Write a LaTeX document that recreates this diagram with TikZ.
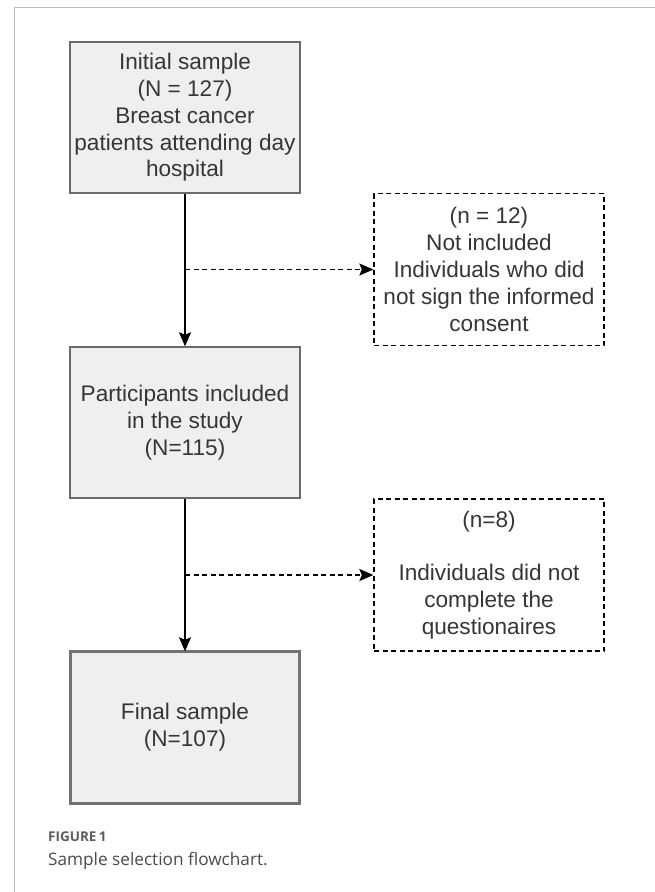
\documentclass[tikz,border=0pt]{standalone}
\usepackage{fontspec}
\setmainfont{Liberation Sans}
\newfontfamily\capfont{Open Sans}
\usetikzlibrary{arrows.meta}
\definecolor{boxfill}{HTML}{EFEFEF}
\definecolor{boxline}{HTML}{6A6A6A}
\definecolor{txt}{HTML}{363636}
\definecolor{frame}{HTML}{BDBDBD}
\definecolor{captxt}{HTML}{4A4A4A}
\definecolor{figtxt}{HTML}{5E5E5E}
\tikzset{
  box/.style={draw=boxline, fill=boxfill, line width=1.4pt, minimum width=230pt,
    minimum height=151pt, inner sep=0pt, align=center, text=txt,
    font=\fontsize{22.6}{26.8}\selectfont},
  finalbox/.style={box, draw=black!55, line width=3.4pt, minimum width=229pt, minimum height=152pt},
  dbox/.style={draw=black, dash pattern=on 5pt off 3.5pt, line width=1.3pt, fill=white,
    minimum width=230pt, minimum height=152pt, inner sep=0pt, align=center, text=txt,
    font=\fontsize{22.6}{26.8}\selectfont},
  flow/.style={line width=1.3pt, -{Stealth[length=14pt, width=12pt, inset=2.5pt]}},
  dflow/.style={flow, dash pattern=on 5pt off 3.5pt},
}
\begin{document}
\begin{tikzpicture}[x=1pt, y=-1pt]
\useasboundingbox (0,0) rectangle (655,892);
% frame
\draw[frame, line width=1pt] (655,7.5) -- (14.5,7.5) -- (14.5,892);
% nodes
\node[box] (b1) at (185,117.5) {Initial sample\\(N = 127)\\Breast cancer\\patients attending day\\hospital};
\node[dbox] (d1) at (489,269.5) {(n = 12)\\Not included\\Individuals who did\\not sign the informed\\consent};
\node[box] (b2) at (185,422.5) {Participants included\\in the study\\(N=115)};
\node[dbox] (d2) at (489,575) {(n=8)\\[26.8pt]Individuals did not\\complete the\\questionaires};
\node[finalbox] (b3) at (185,727.5) {Final sample\\(N=107)};
% connectors
\coordinate (j1) at (b1.south |- d1.west);
\coordinate (j2) at (b2.south |- d2.west);
\draw[flow] (b1.south) -- (b2.north);
\draw[dflow] (j1) -- (d1.west);
\draw[flow] (b2.south) -- ([yshift=-1.5pt]b3.north);
\draw[dflow] (j2) -- (d2.west);
% caption
\node[anchor=base west, inner sep=0pt, text=figtxt, font=\capfont\bfseries\fontsize{13.5}{15}\selectfont] (fig) at (48,841) {FIGURE\,1};
\node[anchor=base west, inner sep=0pt, text=captxt, font=\capfont\fontsize{17.2}{20}\selectfont] (cap) at (48,865) {Sample selection flowchart.};
\end{tikzpicture}
\end{document}
